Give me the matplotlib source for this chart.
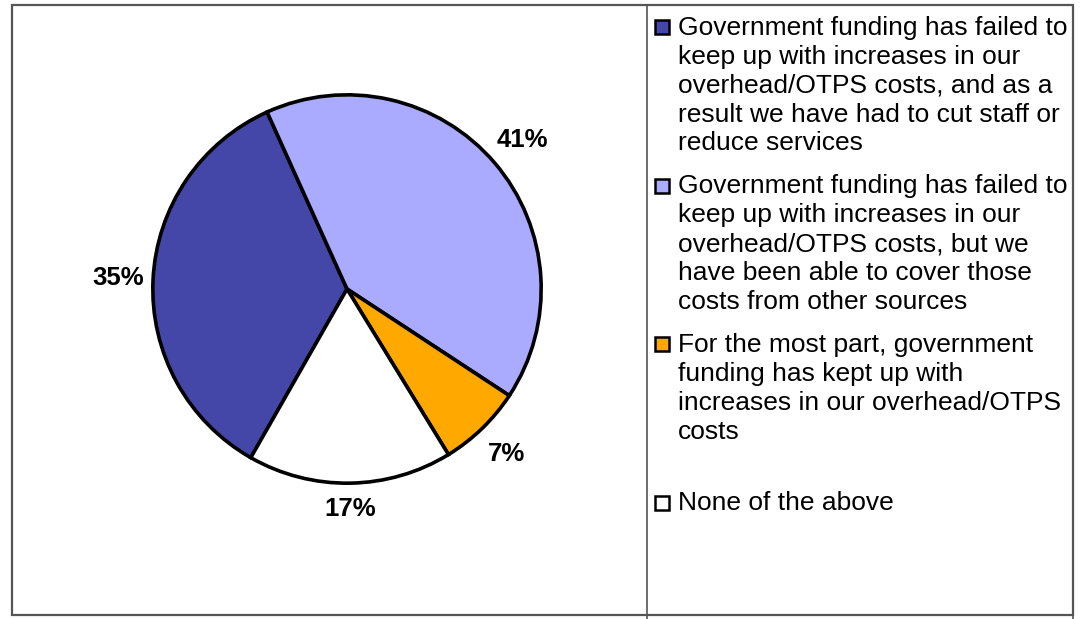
import matplotlib
matplotlib.use("Agg")
import numpy as np
from matplotlib import pyplot as plt
from matplotlib.patches import Rectangle

plt.rcParams["font.family"] = ["Liberation Sans", "DejaVu Sans"]

# Survey responses on overhead/OTPS funding
categories = [
    "Government funding has failed to\nkeep up with increases in our\noverhead/OTPS costs, and as a\nresult we have had to cut staff or\nreduce services",
    "Government funding has failed to\nkeep up with increases in our\noverhead/OTPS costs, but we\nhave been able to cover those\ncosts from other sources",
    "For the most part, government\nfunding has kept up with\nincreases in our overhead/OTPS\ncosts",
    "None of the above",
]
shares = [35, 41, 7, 17]
colors = ["#4547A8", "#AAAAFF", "#FFA800", "#FFFFFF"]

W, H = 1080, 619
fig = plt.figure(figsize=(W / 100, H / 100), dpi=100)
fig.patch.set_facecolor("white")

# pie axes: square centred on (347, 289) px
cx, cy, half = 347, 289, 200
ax = fig.add_axes([(cx - half) / W, (H - cy - half) / H, 2 * half / W, 2 * half / H])
lim = 1.03
wedges, _, autotexts = ax.pie(
    shares,
    colors=colors,
    startangle=240.3,
    counterclock=False,
    autopct="%d%%",
    pctdistance=1.18,
    wedgeprops=dict(edgecolor="black", linewidth=2.6),
    textprops=dict(fontsize=18.5, fontweight="bold", color="black"),
)
ax.set_xlim(-lim, lim)
ax.set_ylim(-lim, lim)
ax.set_aspect("equal")
ax.axis("off")

# push labels out by a gap that depends on the slice direction
for w, t in zip(wedges, autotexts):
    mid = np.deg2rad((w.theta1 + w.theta2) / 2)
    c, s = np.cos(mid), np.sin(mid)
    r = 1.09 + 0.09 * abs(c) + 0.04 * abs(s)
    t.set_position((r * c, r * s))
    t.set_ha("center")
    t.set_va("center")

# outer frame and legend box
fig.add_artist(Rectangle((12 / W, (H - 615) / H), (1073 - 12) / W, (615 - 5) / H,
                         transform=fig.transFigure, fill=False,
                         edgecolor="#555555", linewidth=1.6))
fig.add_artist(Rectangle((647 / W, -0.01), (1073 - 647) / W, (H - 5) / H + 0.01,
                         transform=fig.transFigure, fill=False,
                         edgecolor="#555555", linewidth=1.2))

# legend entries, evenly spaced down the box
top, step = 27, 158.5
for i, (label, col) in enumerate(zip(categories, colors)):
    y = top + i * step
    fig.add_artist(Rectangle((655 / W, (H - y - 7) / H), 14 / W, 14 / H,
                             transform=fig.transFigure, facecolor=col,
                             edgecolor="black", linewidth=1.8))
    fig.text(678 / W, (H - y + 11) / H, label, ha="left", va="top",
             fontsize=19, linespacing=1.255, color="black")

fig.savefig("out.png", dpi=100, facecolor="white")
plt.close(fig)
